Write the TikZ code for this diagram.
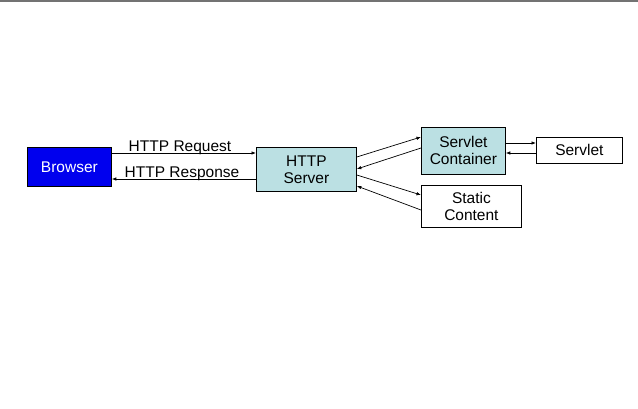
\documentclass[tikz,border=0pt]{standalone}
\usepackage{fontspec}
\setmainfont{Liberation Sans}
\usetikzlibrary{arrows.meta}
\definecolor{srvfill}{RGB}{187,224,227}
\definecolor{brblue}{RGB}{0,0,238}
\begin{document}
\begin{tikzpicture}[x=1pt,y=-1pt,
  box/.style={draw=black,line width=0.8pt,inner sep=0pt,anchor=north west,align=center,font=\fontsize{15.5}{17}\selectfont},
  conn/.style={line width=0.7pt,-{Latex[length=4.5pt,width=3.5pt]}},
  lbl/.style={font=\fontsize{15.5}{17}\selectfont,inner sep=0pt}]
\useasboundingbox (0,0) rectangle (638,409);
\fill[gray!90!black] (0,0) rectangle (638,2.2);
\node[box,fill=brblue,text=white,minimum width=84pt,minimum height=39pt] (br) at (27,147) {Browser};
\node[box,fill=srvfill,minimum width=100pt,minimum height=44pt] (hs) at (256,147) {HTTP\\Server};
\node[box,fill=srvfill,minimum width=84pt,minimum height=47pt] (sc) at (421,127) {Servlet\\Container};
\node[box,fill=white,minimum width=86pt,minimum height=26pt] (sv) at (536,137) {Servlet};
\node[box,fill=white,minimum width=100pt,minimum height=42pt] (st) at (421,185) {Static\\Content};
% browser <-> server
\coordinate (a1) at (br.east |- 0,153);
\coordinate (a2) at (hs.west |- 0,153);
\coordinate (b1) at (hs.west |- 0,179);
\coordinate (b2) at (br.east |- 0,179);
\draw[conn] (a1) -- (a2);
\draw[conn] (b1) -- (b2);
\node[lbl,anchor=base] (lreq) at (180,151.5) {HTTP Request};
\node[lbl,anchor=base] (lres) at (182,177.5) {HTTP Response};
% server <-> container
\draw[conn] (hs.east |- 0,157) -- (sc.west |- 0,137);
\draw[conn] (sc.west |- 0,148) -- (hs.east |- 0,169);
% server <-> static
\draw[conn] (hs.east |- 0,175) -- (st.west |- 0,195);
\draw[conn] (st.west |- 0,210) -- (hs.east |- 0,186);
% container <-> servlet
\draw[conn] (sc.east |- 0,143) -- (sv.west |- 0,143);
\draw[conn] (sv.west |- 0,153) -- (sc.east |- 0,153);
\end{tikzpicture}
\end{document}
